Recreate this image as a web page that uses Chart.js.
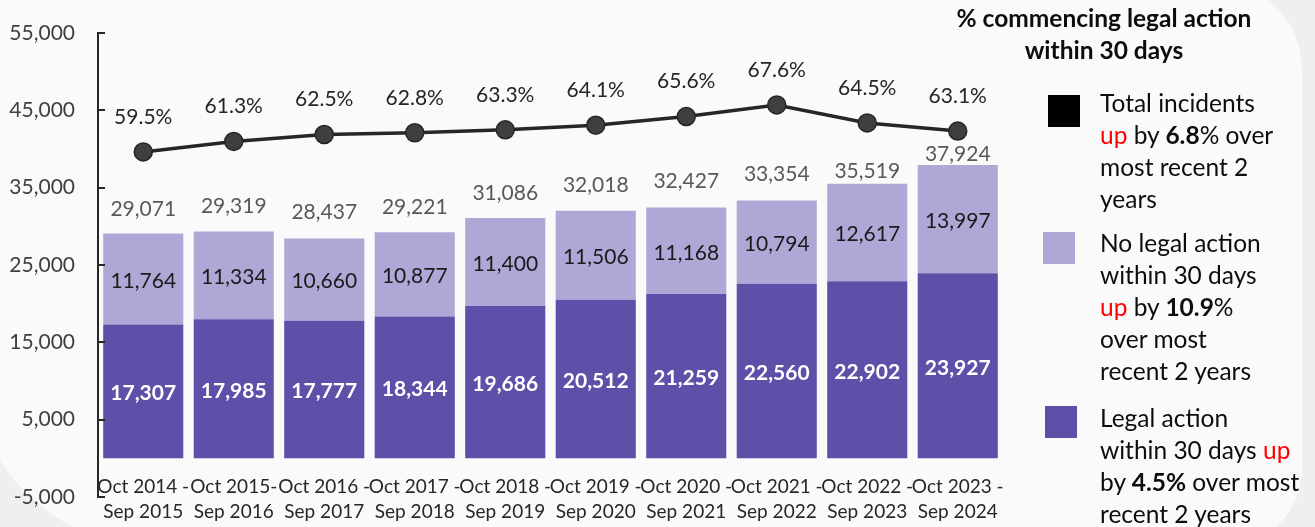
<!DOCTYPE html>
<html>
<head>
<meta charset="utf-8">
<script src="https://cdn.jsdelivr.net/npm/chart.js@4/dist/chart.umd.min.js"></script>
<style>
  html, body { margin: 0; padding: 0; }
  body { width: 1315px; height: 527px; overflow: hidden; background: #efefef; position: relative; font-family: Lato, "Noto Sans", sans-serif; color: #1a1a1a; }
  .card { position: absolute; left: -30px; top: -20px; width: 1332px; height: 568px; background: #fafafa;
          border-top-right-radius: 90px; border-bottom-right-radius: 80px; border-bottom-left-radius: 190px; }
  #wrap { position: absolute; left: 0; top: 0; width: 1315px; height: 527px; }
  #c { display: block; }
  .title { position: absolute; left: 904px; top: 2px; width: 400px; text-align: center; font-weight: 700; font-size: 24.5px; line-height: 32px; color: #0d0d0d; }
  .sw { position: absolute; width: 32px; height: 32px; }
  .lg { position: absolute; left: 1100px; font-size: 24.5px; line-height: 32px; color: #0d0d0d; white-space: nowrap; }
  .up { color: #ff0000; }
  b { font-weight: 700; }
</style>
</head>
<body>
<div class="card"></div>
<div id="wrap"><canvas id="c" width="1315" height="527"></canvas></div>

<div class="title">% commencing legal action<br>within 30 days</div>

<div class="sw" style="left:1048px;top:95px;background:#000000"></div>
<div class="lg" style="top:87px">Total incidents<br><span class="up">up</span> by <b>6.8</b>% over<br>most recent 2<br>years</div>

<div class="sw" style="left:1043px;top:232px;background:#b1a7d6"></div>
<div class="lg" style="top:227px">No legal action<br>within 30 days<br><span class="up">up</span> by <b>10.9</b>%<br>over most<br>recent 2 years</div>

<div class="sw" style="left:1045px;top:406px;background:#5e4fa9"></div>
<div class="lg" style="top:402px">Legal action<br>within 30 days <span class="up">up</span><br>by <b>4.5%</b> over most<br>recent 2 years</div>

<script>
// Reporting periods (two-line axis labels)
const periodStart = ['Oct 2014 -', 'Oct 2015-', 'Oct 2016 -', 'Oct 2017 -', 'Oct 2018 -',
                     'Oct 2019 -', 'Oct 2020 -', 'Oct 2021 -', 'Oct 2022 -', 'Oct 2023 -'];
const periodEnd = ['Sep 2015', 'Sep 2016', 'Sep 2017', 'Sep 2018', 'Sep 2019',
                   'Sep 2020', 'Sep 2021', 'Sep 2022', 'Sep 2023', 'Sep 2024'];

// Incidents commencing legal action within 30 days
const legalAction = [17307, 17985, 17777, 18344, 19686, 20512, 21259, 22560, 22902, 23927];
// Incidents with no legal action within 30 days
const noLegalAction = [11764, 11334, 10660, 10877, 11400, 11506, 11168, 10794, 12617, 13997];
// % commencing legal action within 30 days
const pctLegal = [59.5, 61.3, 62.5, 62.8, 63.3, 64.1, 65.6, 67.6, 64.5, 63.1];

// Y-axis tick values
const yTicks = [-5000, 5000, 15000, 25000, 35000, 45000, 55000];

const categories = periodStart.map((s, i) => [s, periodEnd[i]]);
const totals = legalAction.map((v, i) => v + noLegalAction[i]);

const FONT = 'Lato, "Noto Sans", sans-serif';
const fmt = v => v.toLocaleString('en-US');

// Gap between a bar's top and its total label (the last two sit closer to the bar)
const totalLabelGap = [24, 25, 26, 25, 25, 25, 26, 26, 12, 11];

// Short tick marks pointing into the plot from the left axis, plus value labels
const annotate = {
  id: 'annotate',
  afterDraw(chart) {
    const ctx = chart.ctx;
    const y = chart.scales.y;
    const axisX = y.right;
    ctx.save();
    ctx.strokeStyle = '#262626';
    ctx.lineWidth = 2;
    y.ticks.forEach(t => {
      const py = Math.round(y.getPixelForValue(t.value));
      ctx.beginPath();
      ctx.moveTo(axisX - 1, py);
      ctx.lineTo(axisX + 7, py);
      ctx.stroke();
    });

    ctx.textAlign = 'center';
    ctx.textBaseline = 'middle';
    const lineMeta = chart.getDatasetMeta(0);
    const legalMeta = chart.getDatasetMeta(1);

    legalMeta.data.forEach((bar, i) => {
      const x = bar.x;
      const base = y.getPixelForValue(0);
      const top1 = y.getPixelForValue(legalAction[i]);
      const top2 = y.getPixelForValue(totals[i]);
      ctx.font = '700 21px ' + FONT;
      ctx.fillStyle = '#ffffff';
      ctx.fillText(fmt(legalAction[i]), x, (base + top1) / 2 + 2);
      ctx.font = '400 21px ' + FONT;
      ctx.fillStyle = '#1a1a1a';
      ctx.fillText(fmt(noLegalAction[i]), x, (top1 + top2) / 2 + 2);
      ctx.fillStyle = '#595959';
      ctx.fillText(fmt(totals[i]), x, top2 - totalLabelGap[i]);
    });

    ctx.fillStyle = '#262626';
    ctx.font = '400 21px ' + FONT;
    lineMeta.data.forEach((pt, i) => {
      ctx.fillText(pctLegal[i].toFixed(1) + '%', pt.x, pt.y - 35);
    });
    ctx.restore();
  }
};

new Chart(document.getElementById('c'), {
  data: {
    labels: categories,
    datasets: [
      {
        type: 'line',
        label: 'Total incidents',
        data: pctLegal,
        yAxisID: 'y2',
        order: 0,
        borderColor: '#262626',
        borderWidth: 3.5,
        pointRadius: 9,
        pointBackgroundColor: '#3f3f3f',
        pointBorderColor: '#262626',
        pointBorderWidth: 1.5,
        tension: 0
      },
      {
        type: 'bar',
        label: 'Legal action within 30 days',
        data: legalAction,
        yAxisID: 'y',
        order: 1,
        stack: 's',
        backgroundColor: '#5e4fa9',
        barPercentage: 0.885,
        categoryPercentage: 1
      },
      {
        type: 'bar',
        label: 'No legal action within 30 days',
        data: noLegalAction,
        yAxisID: 'y',
        order: 1,
        stack: 's',
        backgroundColor: '#b1a7d6',
        barPercentage: 0.885,
        categoryPercentage: 1
      }
    ]
  },
  options: {
    responsive: false,
    animation: false,
    devicePixelRatio: 1,
    layout: { autoPadding: false, padding: { top: 33, right: 312, left: 0, bottom: 0 } },
    plugins: { legend: { display: false }, tooltip: { enabled: false } },
    scales: {
      x: {
        stacked: true,
        grid: { display: false, drawTicks: false },
        border: { display: false },
        ticks: {
          autoSkip: false, maxRotation: 0, minRotation: 0,
          mirror: true, padding: -2.5,
          color: '#262626',
          font: { family: FONT, size: 19, lineHeight: 25 / 19 }
        },
        afterFit(s) { s.height = 30; }
      },
      y: {
        stacked: true,
        min: -5000, max: 55000,
        afterBuildTicks(s) { s.ticks = yTicks.map(v => ({ value: v })); },
        ticks: {
          padding: 0,
          color: '#404040',
          font: { family: FONT, size: 21 },
          callback: v => fmt(v)
        },
        grid: {
          drawTicks: true,
          tickLength: 23,
          tickColor: 'rgba(0,0,0,0)',
          color: c => (c.tick && c.tick.value === 0 ? '#d9d9d9' : 'rgba(0,0,0,0)'),
          lineWidth: 2
        },
        border: { display: true, color: '#262626', width: 2 },
        afterFit(s) { s.width = 98; }
      },
      y2: {
        display: false,
        min: 0, max: 80
      }
    }
  },
  plugins: [annotate]
});
</script>
</body>
</html>
